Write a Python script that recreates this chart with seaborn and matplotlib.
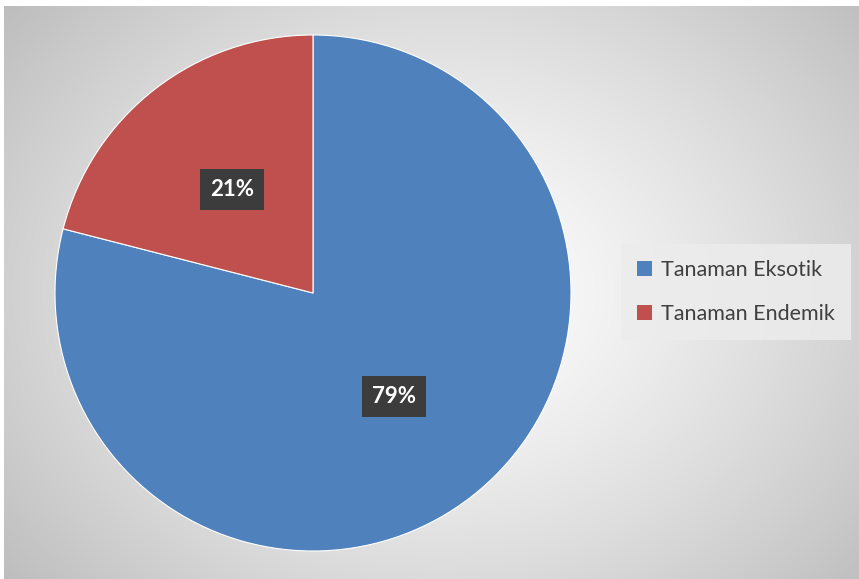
import numpy as np
import matplotlib
matplotlib.use("Agg")
import matplotlib.pyplot as plt
from matplotlib.patches import Patch
import seaborn as sns

categories = ["Tanaman Eksotik", "Tanaman Endemik"]
values = [79, 21]
colors = ["#4F81BD", "#C0504D"]

sns.set_theme(style="white")
plt.rcParams['font.family'] = ['Lato', 'DejaVu Sans']

W, H = 859, 579
fig = plt.figure(figsize=(W / 100, H / 100), dpi=100)
fig.patch.set_facecolor("white")

# background radial gradient
bg = fig.add_axes([4 / W, 0, (W - 4) / W, (H - 6) / H])
yy, xx = np.mgrid[0:H, 0:W]
cx, cy = 440, 290
d = np.sqrt(((xx - cx) / 520.0) ** 2 + ((yy - cy) / 420.0) ** 2)
val = 1.0 - 0.23 * np.clip(d, 0, 1.1) ** 1.3
img = np.dstack([val, val, val])
bg.imshow(img, aspect="auto", extent=[0, 1, 0, 1])
bg.set_axis_off()

# pie
cxp, cyp, r = 313, 293, 258
ax = fig.add_axes([(cxp - r) / W, (H - cyp - r) / H, 2 * r / W, 2 * r / H])
wedges, texts, autotexts = ax.pie(
    values, colors=colors, startangle=90, counterclock=False,
    autopct="%1.0f%%", pctdistance=0.51,
    wedgeprops=dict(edgecolor="white", linewidth=0.8),
    textprops=dict(color="white", fontsize=16, fontweight="bold"),
)
for t in autotexts:
    t.set_bbox(dict(boxstyle="square,pad=0.45", facecolor="#3c3c3c", edgecolor="none"))
ax.set_aspect("equal")
ax.set_xlim(-1, 1)
ax.set_ylim(-1, 1)

handles = [Patch(facecolor=c, edgecolor="none") for c in colors]
leg = fig.legend(handles, categories, loc="center left",
                 bbox_to_anchor=(621 / W, (H - 292) / H),
                 frameon=True, fontsize=15.5, handlelength=0.7, handleheight=0.7,
                 handletextpad=0.4, labelspacing=1.1, borderpad=0.75,
                 borderaxespad=0.0,
                 fancybox=False, labelcolor="#404040")
leg.get_frame().set_facecolor("#ececec")
leg.get_frame().set_edgecolor("none")
leg.get_frame().set_alpha(0.85)

fig.savefig("out.png", dpi=100)
